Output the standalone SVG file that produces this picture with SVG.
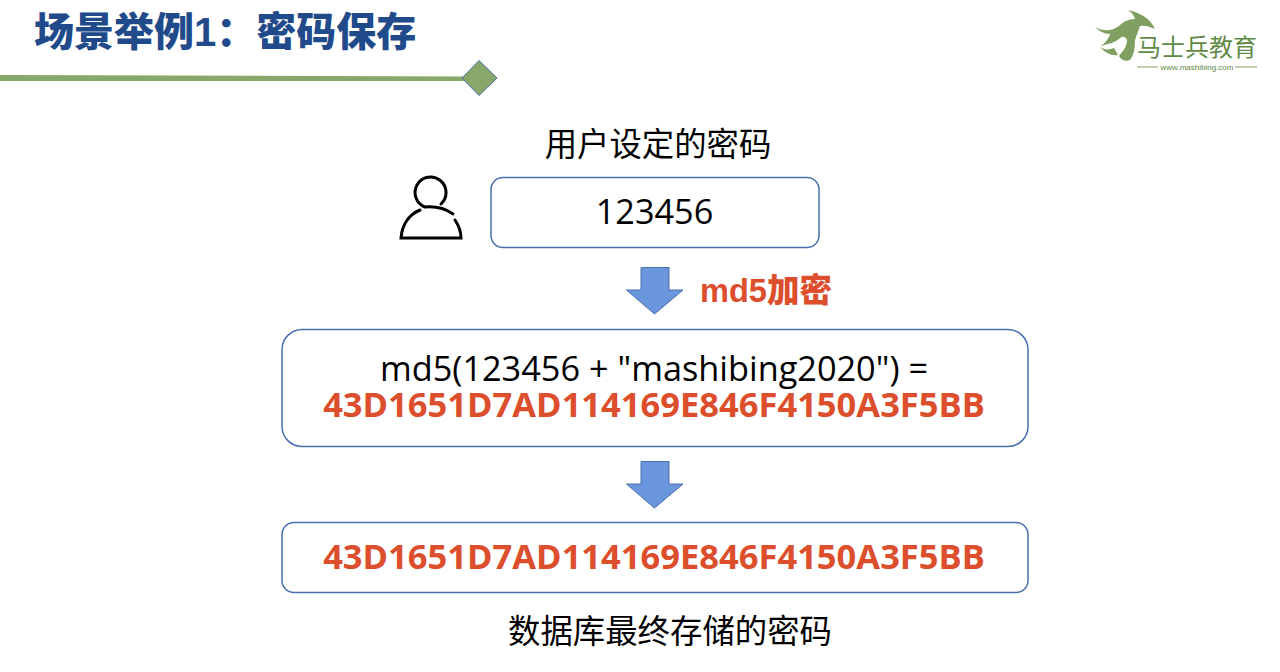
<svg xmlns="http://www.w3.org/2000/svg" width="1280" height="672" viewBox="0 0 1280 672">
<style>
.box{fill:#fff;stroke:#4a6fb0;stroke-width:1.5}
.arrow{fill:#6a96de;stroke:#4a6fa8;stroke-width:1}
.t{font-family:"Open Sans","Noto Sans CJK SC",sans-serif;font-size:34.300px;fill:#000;text-anchor:middle}
.cn{font-family:"Noto Sans CJK SC",sans-serif;font-size:32.400px;fill:#000;text-anchor:middle}
.hash{font-family:"Open Sans","Noto Sans CJK SC",sans-serif;font-size:34.500px;font-weight:700;fill:#dc4e2c;text-anchor:middle}
</style>
<rect width="1280" height="672" fill="#fff"/>
<g id="header">
<text x="34" y="46" font-family="'Liberation Sans','Noto Sans CJK SC',sans-serif" font-size="40" font-weight="900" fill="#204a8a">场景举例1：密码保存</text>
<polygon points="0,75 465,76.500 465,81 0,81" fill="#88a869"/>
<polygon points="479,60.500 497,78 479,95.500 462,78" fill="#88a869" stroke="#4a6fa8" stroke-width="1"/>
</g>
<g id="logo">
<path d="M1095 27 C1104 32 1112 31 1119 26 C1123 22 1128 19 1135 19 C1134 15 1131 12 1128 10 C1142 13 1151 20 1155 29 C1149 26 1144 25 1140 26 L1135 40 C1135 48 1134 55 1130 60 C1126 62 1121 60 1119 56 C1124 50 1127 46 1127 40 C1125 36 1122 36 1119 39 C1113 44 1107 43 1100 47 C1106 42 1109 38 1110 34 C1104 34 1099 31 1095 27Z" fill="#7fa060"/>
<path d="M1100 47 C1104 50 1109 50 1114 48 L1118 55 C1112 56 1105 53 1100 47Z" fill="#7fa060"/>
<text x="1197" y="56" font-family="'Noto Sans CJK SC',sans-serif" font-size="24" fill="#5f8a45" text-anchor="middle" textLength="120" lengthAdjust="spacingAndGlyphs">马士兵教育</text>
<path d="M1137 67H1158M1235 67H1257" stroke="#7fa060" stroke-width="1"/>
<text x="1197" y="70" font-family="'Liberation Sans',sans-serif" font-size="8" fill="#5f8a45" text-anchor="middle">www.mashibing.com</text>
</g>
<g id="user-icon" fill="none" stroke="#000" stroke-width="3" stroke-linecap="round">
<path d="M441 204 A15.500 15.500 0 1 0 425 207 C436 206 446 209 453 214"/>
<path d="M420 210 C408 215 402 226 401 238 H461 C461 232 459 226 455 220"/>
</g>
<g id="password-label"><text class="cn" x="658" y="156">用户设定的密码</text></g>
<g id="password-box"><rect class="box" x="491" y="177.500" width="328" height="70" rx="12"/><text class="t" x="654.500" y="224">123456</text></g>
<g id="hash-box"><rect class="box" x="282" y="329.500" width="746" height="117" rx="20"/>
<text class="t" x="654" y="381">md5(123456 + "mashibing2020") =</text>
<text class="hash" x="654" y="417">43D1651D7AD114169E846F4150A3F5BB</text></g>
<g id="stored-box"><rect class="box" x="282" y="522.500" width="746" height="70" rx="12"/>
<text class="hash" x="654" y="569">43D1651D7AD114169E846F4150A3F5BB</text></g>
<g id="stored-label"><text class="cn" x="670" y="643">数据库最终存储的密码</text></g>
<g id="connectors">
<polygon class="arrow" points="641,267.500 669,267.500 669,290 683,290 654.500,314 626.500,290 641,290"/>
<polygon class="arrow" points="641,461.500 669,461.500 669,484 683,484 654.500,508 626.500,484 641,484"/>
</g>
<g id="md5-label"><text x="700" y="302" font-family="'Liberation Sans','Noto Sans CJK SC',sans-serif" font-size="33" font-weight="900" fill="#dc4e2c" textLength="132" lengthAdjust="spacingAndGlyphs">md5加密</text></g>
</svg>
